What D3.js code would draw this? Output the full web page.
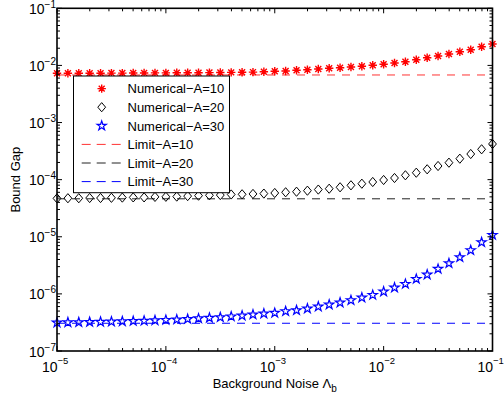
<!DOCTYPE html>
<html>
<head>
<meta charset="utf-8">
<script src="https://cdn.jsdelivr.net/npm/d3@7"></script>
<style>
  html, body { margin: 0; padding: 0; background: #fff; }
  svg { display: block; }
  text { font-family: "Liberation Sans", Arial, Helvetica, sans-serif; fill: #000; }
</style>
</head>
<body>
<svg id="chart" width="504" height="400"></svg>
<script>
// Background noise levels (x), 10 samples per decade
const noise = [
  1.000e-5, 1.259e-5, 1.585e-5, 1.995e-5, 2.512e-5, 3.162e-5, 3.981e-5, 5.012e-5, 6.310e-5, 7.943e-5,
  1.000e-4, 1.259e-4, 1.585e-4, 1.995e-4, 2.512e-4, 3.162e-4, 3.981e-4, 5.012e-4, 6.310e-4, 7.943e-4,
  1.000e-3, 1.259e-3, 1.585e-3, 1.995e-3, 2.512e-3, 3.162e-3, 3.981e-3, 5.012e-3, 6.310e-3, 7.943e-3,
  1.000e-2, 1.259e-2, 1.585e-2, 1.995e-2, 2.512e-2, 3.162e-2, 3.981e-2, 5.012e-2, 6.310e-2, 7.943e-2,
  1.000e-1
];

// Numerical bound gap, A = 10
const gapA10 = [
  7.28e-3, 7.28e-3, 7.28e-3, 7.31e-3, 7.31e-3, 7.34e-3, 7.34e-3, 7.37e-3, 7.37e-3, 7.40e-3,
  7.40e-3, 7.43e-3, 7.43e-3, 7.46e-3, 7.49e-3, 7.52e-3, 7.55e-3, 7.58e-3, 7.64e-3, 7.76e-3,
  7.89e-3, 7.98e-3, 8.21e-3, 8.41e-3, 8.65e-3, 8.91e-3, 9.12e-3, 9.38e-3, 9.65e-3, 1.005e-2,
  1.046e-2, 1.103e-2, 1.162e-2, 1.259e-2, 1.365e-2, 1.462e-2, 1.585e-2, 1.738e-2, 1.884e-2, 2.127e-2,
  2.371e-2
];

// Numerical bound gap, A = 20
const gapA20 = [
  4.70e-5, 4.73e-5, 4.73e-5, 4.77e-5, 4.77e-5, 4.81e-5, 4.85e-5, 4.89e-5, 4.89e-5, 4.99e-5,
  5.01e-5, 5.05e-5, 5.15e-5, 5.24e-5, 5.32e-5, 5.37e-5, 5.50e-5, 5.54e-5, 5.62e-5, 5.70e-5,
  5.84e-5, 6.01e-5, 6.15e-5, 6.41e-5, 6.70e-5, 6.94e-5, 7.35e-5, 7.96e-5, 8.49e-5, 9.10e-5,
  9.86e-5, 1.069e-4, 1.192e-4, 1.323e-4, 1.518e-4, 1.734e-4, 1.981e-4, 2.328e-4, 2.812e-4, 3.40e-4,
  4.21e-4
];

// Numerical bound gap, A = 30
const gapA30 = [
  3.13e-7, 3.16e-7, 3.18e-7, 3.21e-7, 3.23e-7, 3.26e-7, 3.30e-7, 3.34e-7, 3.38e-7, 3.44e-7,
  3.49e-7, 3.55e-7, 3.62e-7, 3.71e-7, 3.80e-7, 3.89e-7, 4.02e-7, 4.15e-7, 4.34e-7, 4.50e-7,
  4.63e-7, 4.96e-7, 5.16e-7, 5.51e-7, 5.97e-7, 6.47e-7, 7.01e-7, 7.73e-7, 8.58e-7, 9.56e-7,
  1.093e-6, 1.284e-6, 1.490e-6, 1.823e-6, 2.17e-6, 2.73e-6, 3.43e-6, 4.37e-6, 5.80e-6, 8.00e-6,
  1.074e-5
];

// Asymptotic limits
const limitA10 = 6.80e-3;
const limitA20 = 4.62e-5;
const limitA30 = 3.06e-7;

// Axis ticks and labels
const xTicks = [1e-5, 1e-4, 1e-3, 1e-2, 1e-1];
const xTickExps = ["−5", "−4", "−3", "−2", "−1"];
const yTicks = [1e-7, 1e-6, 1e-5, 1e-4, 1e-3, 1e-2, 1e-1];
const yTickExps = ["−7", "−6", "−5", "−4", "−3", "−2", "−1"];

const legendLabels = [
  "Numerical−A=10", "Numerical−A=20", "Numerical−A=30",
  "Limit−A=10", "Limit−A=20", "Limit−A=30"
];

// ---- layout ----
const plot = { left: 57, right: 492.5, top: 8.3, bottom: 351 };
const svg = d3.select("#chart");

const x = d3.scaleLog().domain([1e-5, 1e-1]).range([plot.left, plot.right]);
const y = d3.scaleLog().domain([1e-7, 1e-1]).range([plot.bottom, plot.top]);

// ---- marker shapes ----
const asteriskPath = (r => {
  const d = r * Math.SQRT1_2;
  return `M${-r},0H${r}M0,${-r}V${r}M${-d},${-d}L${d},${d}M${-d},${d}L${d},${-d}`;
})(4.2);
const diamondPath = "M0,-4.6L3.9,0L0,4.6L-3.9,0Z";
const starPath = (() => {
  const R = 4.9, r = R * 0.382, pts = [];
  for (let i = 0; i < 10; i++) {
    const a = -Math.PI / 2 + i * Math.PI / 5;
    const rad = i % 2 ? r : R;
    pts.push([rad * Math.cos(a), rad * Math.sin(a)]);
  }
  return "M" + pts.map(p => p[0].toFixed(2) + "," + p[1].toFixed(2)).join("L") + "Z";
})();

const series = [
  { values: gapA10, path: asteriskPath, stroke: "#ff0000", width: 1.4, fill: "none" },
  { values: gapA20, path: diamondPath, stroke: "#000000", width: 1.0, fill: "none" },
  { values: gapA30, path: starPath, stroke: "#0000ff", width: 1.2, fill: "none" }
];
const limits = [
  { value: limitA10, stroke: "#ff3333" },
  { value: limitA20, stroke: "#222222" },
  { value: limitA30, stroke: "#0000ff" }
];
const dash = "8,7";

// ---- limit lines ----
svg.append("g").selectAll("line").data(limits).join("line")
  .attr("x1", x(1e-5)).attr("x2", x(1e-1))
  .attr("y1", d => y(d.value)).attr("y2", d => y(d.value))
  .attr("stroke", d => d.stroke).attr("stroke-width", 1)
  .attr("stroke-dasharray", dash);

// ---- numerical markers ----
series.forEach(s => {
  svg.append("g").selectAll("path").data(s.values).join("path")
    .attr("transform", (v, i) => `translate(${x(noise[i])},${y(v)})`)
    .attr("d", s.path)
    .attr("fill", s.fill)
    .attr("stroke", s.stroke)
    .attr("stroke-width", s.width)
    .attr("stroke-linejoin", "miter");
});

// ---- axes box and ticks ----
const axes = svg.append("g");
const majorLen = 5, minorLen = 3;

function minorTicks(lo, hi) {
  const out = [];
  for (let e = lo; e < hi; e++) for (let m = 2; m <= 9; m++) out.push(m * Math.pow(10, e));
  return out;
}
const xMinor = minorTicks(-5, -1);
const yMinor = minorTicks(-7, -1);

const tickG = axes.append("g").attr("stroke", "#000").attr("stroke-width", 1);
function vTicks(vals, len) {
  vals.forEach(v => {
    const px = x(v);
    tickG.append("line").attr("x1", px).attr("x2", px).attr("y1", plot.bottom).attr("y2", plot.bottom - len);
    tickG.append("line").attr("x1", px).attr("x2", px).attr("y1", plot.top).attr("y2", plot.top + len);
  });
}
function hTicks(vals, len) {
  vals.forEach(v => {
    const py = y(v);
    tickG.append("line").attr("y1", py).attr("y2", py).attr("x1", plot.left).attr("x2", plot.left + len);
    tickG.append("line").attr("y1", py).attr("y2", py).attr("x1", plot.right).attr("x2", plot.right - len);
  });
}
vTicks(xTicks, majorLen); vTicks(xMinor, minorLen);
hTicks(yTicks, majorLen); hTicks(yMinor, minorLen);

axes.append("rect")
  .attr("x", plot.left).attr("y", plot.top)
  .attr("width", plot.right - plot.left).attr("height", plot.bottom - plot.top)
  .attr("fill", "none").attr("stroke", "#000").attr("stroke-width", 1.6);

// ---- tick labels: base "10" ends at the tick, exponent follows ----
const xl = svg.append("g");
xTicks.forEach((v, i) => {
  xl.append("text")
    .attr("x", x(v) + 0.5).attr("y", 371.5)
    .attr("text-anchor", "end").style("font-size", "14px")
    .text("10");
  xl.append("text")
    .attr("x", x(v) + 0.5).attr("y", 363.5)
    .attr("text-anchor", "start").style("font-size", "9.5px")
    .text(xTickExps[i]);
});
const yl = svg.append("g");
yTicks.forEach((v, i) => {
  const t = yl.append("text")
    .attr("x", 56).attr("y", y(v) + 5.5)
    .attr("text-anchor", "end").style("font-size", "14px");
  t.append("tspan").text("10");
  t.append("tspan").attr("dy", -6).style("font-size", "10px").text(yTickExps[i]);
});

// ---- axis titles ----
const xt = svg.append("text")
  .attr("x", (plot.left + plot.right) / 2).attr("y", 387.5)
  .attr("text-anchor", "middle").style("font-size", "13px");
xt.append("tspan").text("Background Noise Λ");
xt.append("tspan").attr("dy", 4.5).style("font-size", "10px").text("b");

svg.append("text")
  .attr("transform", `translate(19.5,${(plot.top + plot.bottom) / 2}) rotate(-90)`)
  .attr("text-anchor", "middle").style("font-size", "13px")
  .text("Bound Gap");

// ---- legend ----
const lg = svg.append("g");
lg.append("rect")
  .attr("x", 73.5).attr("y", 76).attr("width", 156).attr("height", 116.7)
  .attr("fill", "#fff").attr("stroke", "#000").attr("stroke-width", 1);

const rowY = i => 88.6 + i * 18.6;
legendLabels.forEach((lab, i) => {
  const cy = rowY(i);
  if (i < 3) {
    const s = series[i];
    lg.append("path")
      .attr("transform", `translate(101.7,${cy})`)
      .attr("d", s.path).attr("fill", s.fill)
      .attr("stroke", s.stroke).attr("stroke-width", s.width);
  } else {
    const l = limits[i - 3];
    lg.append("line")
      .attr("x1", 81.7).attr("x2", 121.7).attr("y1", cy).attr("y2", cy)
      .attr("stroke", l.stroke).attr("stroke-width", 1)
      .attr("stroke-dasharray", "9,6");
  }
  lg.append("text")
    .attr("x", 127.5).attr("y", cy + 4.7)
    .style("font-size", "13px")
    .text(lab);
});
</script>
</body>
</html>
